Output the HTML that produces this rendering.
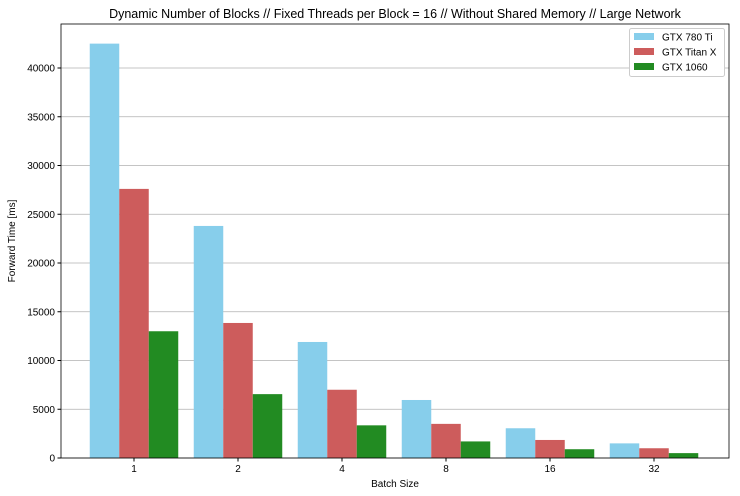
<!DOCTYPE html>
<html><head><meta charset="utf-8"><style>
html,body{margin:0;padding:0;background:#fff;}
svg{display:block;font-family:"Liberation Sans","DejaVu Sans",sans-serif;}
</style></head><body>
<svg id="chart" width="740" height="496" viewBox="0 0 740 496">
<text x="395" y="18" font-size="12.5" text-anchor="middle" fill="#000">Dynamic Number of Blocks // Fixed Threads per Block = 16 // Without Shared Memory // Large Network</text>
<g id="grid"></g><g id="bars"></g><g id="axes"></g>
<text x="395" y="487" font-size="10" text-anchor="middle">Batch Size</text>
<text transform="translate(15,241) rotate(-90)" font-size="10" text-anchor="middle">Forward Time [ms]</text>
<g id="legend"></g>
</svg>
<script>
const categories = ["1","2","4","8","16","32"];
const seriesNames = ["GTX 780 Ti","GTX Titan X","GTX 1060"];
const gtx780 = [42500,23800,11900,5950,3050,1500];
const titanX = [27600,13850,7000,3500,1850,1000];
const gtx1060 = [13000,6550,3350,1700,900,500];
const yTicks = [0,5000,10000,15000,20000,25000,30000,35000,40000];
const colors = ["#87ceeb","#cd5c5c","#228b22"];
const series=[gtx780,titanX,gtx1060];
const L=61,R=729,T=24,B=458;
const y=v=>B-v*390/40000;
const x=i=>134+104*i;
const bw=29.5;
const NS="http://www.w3.org/2000/svg";
function mk(t,a,p){const e=document.createElementNS(NS,t);for(const k in a)e.setAttribute(k,a[k]);p.appendChild(e);return e;}
const grid=document.getElementById('grid'),bars=document.getElementById('bars'),axes=document.getElementById('axes'),leg=document.getElementById('legend');
yTicks.forEach(v=>{
 const g=mk('line',{x1:L,x2:R,y1:y(v),y2:y(v),stroke:'#b0b0b0','stroke-width':0.8},grid);
 
 
 mk('line',{x1:L-3.5,x2:L,y1:y(v),y2:y(v),stroke:'#000'},axes);
 const t=mk('text',{x:L-6,y:y(v)+3.5,'font-size':10,'text-anchor':'end'},axes);t.textContent=v;
 
 
});
series.forEach((s,si)=>s.forEach((v,i)=>{
 const r=mk('rect',{x:x(i)+(si-1)*bw-bw/2,y:y(v),width:bw,height:B-y(v),fill:colors[si]},bars);
 
 
}));
categories.forEach((c,i)=>{
 mk('line',{x1:x(i),x2:x(i),y1:B,y2:B+3.5,stroke:'#000'},axes);
 const t=mk('text',{x:x(i),y:B+14,'font-size':10,'text-anchor':'middle'},axes);t.textContent=c;
 
 
});
const fr=mk('rect',{x:L,y:T,width:R-L,height:B-T,fill:'none',stroke:'#000','stroke-width':0.8},axes);


const lb=mk('rect',{x:629.5,y:28.5,width:95,height:48,fill:'#fff',stroke:'#ccc',rx:2},leg);


seriesNames.forEach((n,i)=>{
 const g=mk('g',{},leg);
 
 
 mk('rect',{x:634,y:33+i*15,width:20,height:7,fill:colors[i]},g);
 const t=mk('text',{x:662,y:40.5+i*15,'font-size':10},g);t.textContent=n;
});
</script>
</body></html>
